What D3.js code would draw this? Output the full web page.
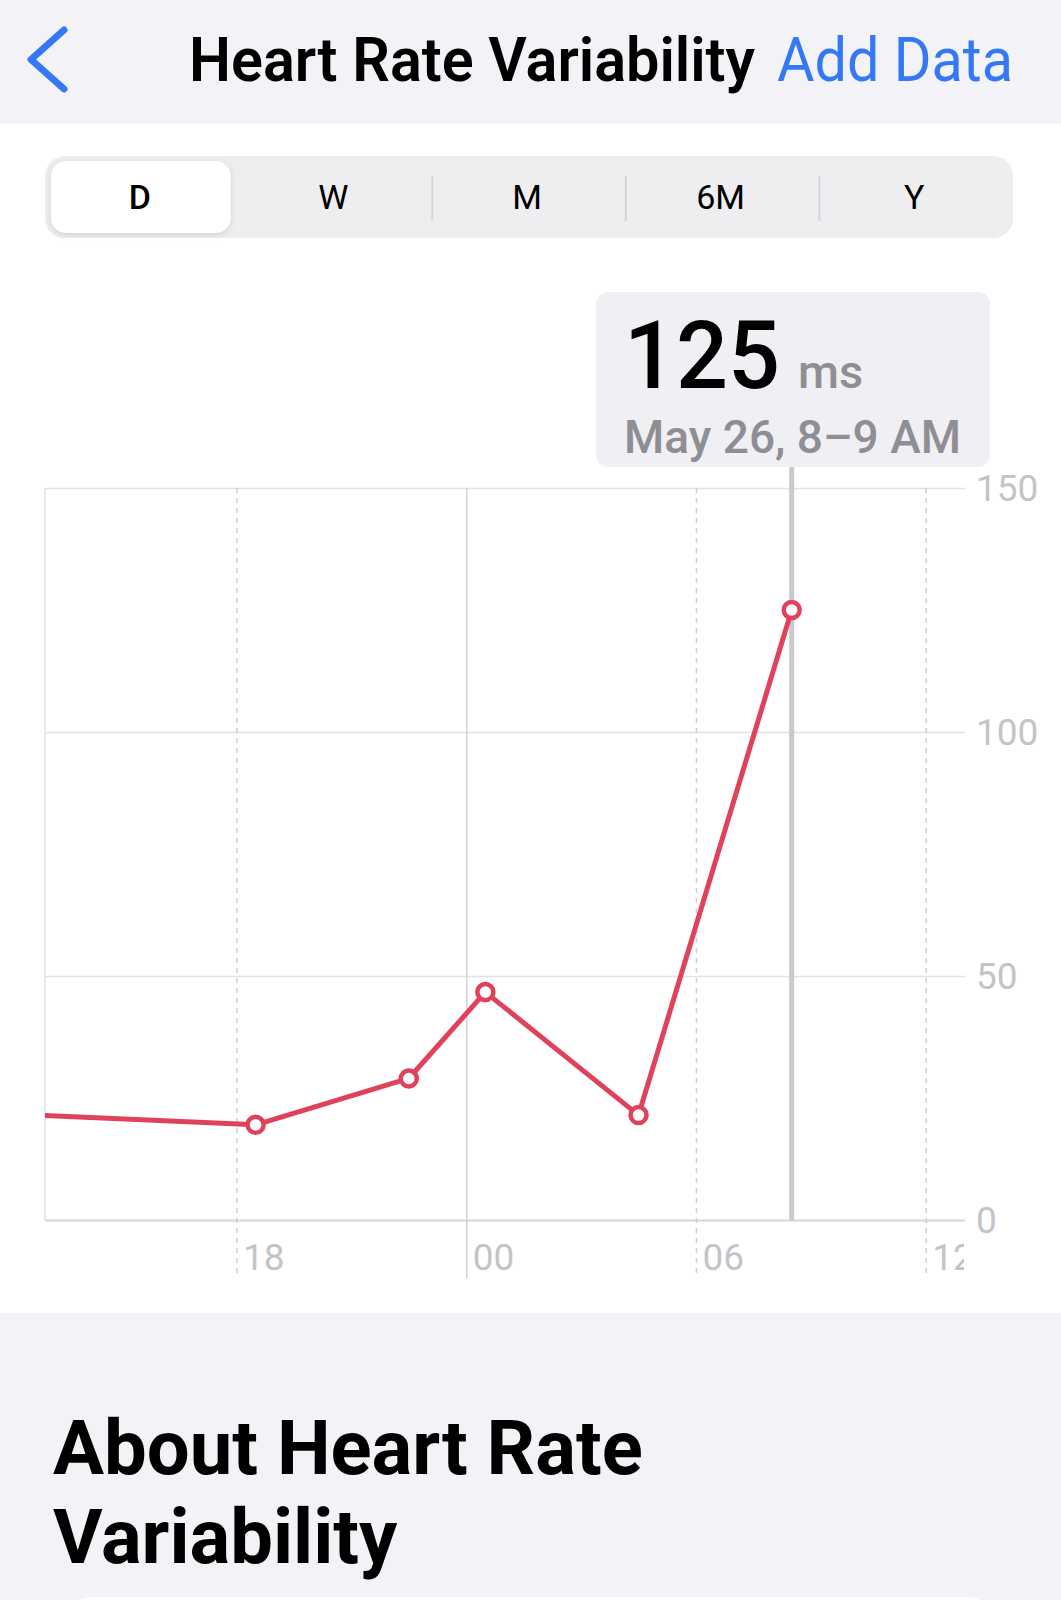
<!DOCTYPE html>
<html><head><meta charset="utf-8">
<script src="https://cdn.jsdelivr.net/npm/d3@7"></script>
<style>
html,body{margin:0;padding:0;background:#fff;}
svg{display:block;font-family:Roboto,"Noto Sans",sans-serif;}
</style>
</head><body>
<svg id="c" width="1061" height="1600"></svg>
<script>
// ---- data ----
const times = ["2024-05-25T10:30","2024-05-25T18:30","2024-05-25T22:30","2024-05-26T00:30","2024-05-26T04:30","2024-05-26T08:30"];
const hrvValues = [22.3, 19.5, 29.0, 46.7, 21.5, 125];
const selectedIndex = 5;
const domainTimes = ["2024-05-25T13:00","2024-05-26T13:00"];
const xTickTimes = ["2024-05-25T18:00","2024-05-26T00:00","2024-05-26T06:00","2024-05-26T12:00"];
const xTickLabels = ["18","00","06","12"];
const yTicks = [0,50,100,150];
const segments = ["D","W","M","6M","Y"];
const selectedSegment = "D";
const title = "Heart Rate Variability";
const unit = "ms";

const parse = d3.timeParse("%Y-%m-%dT%H:%M");
const svg = d3.select("#c");

// backgrounds
svg.append("rect").attr("x",0).attr("y",0).attr("width",1061).attr("height",124).attr("fill","#f2f2f7");
svg.append("rect").attr("x",0).attr("y",124).attr("width",1061).attr("height",1189).attr("fill","#ffffff");
svg.append("rect").attr("x",0).attr("y",1313).attr("width",1061).attr("height",287).attr("fill","#f2f2f7");
svg.append("rect").attr("x",68).attr("y",1597).attr("width",923).attr("height",60).attr("rx",22).attr("fill","#ffffff");

// header
svg.append("path").attr("d","M64 30 L31 59.5 L64 89").attr("fill","none")
  .attr("stroke","#3478f6").attr("stroke-width",7).attr("stroke-linecap","round").attr("stroke-linejoin","round");
svg.append("text").attr("x",189).attr("y",81).attr("font-size",62).attr("font-weight",600)
  .attr("fill","#000").attr("textLength",566).attr("lengthAdjust","spacingAndGlyphs").text(title);
svg.append("text").attr("x",777).attr("y",81).attr("font-size",62).attr("font-weight",400)
  .attr("fill","#3478f6").attr("textLength",236).attr("lengthAdjust","spacingAndGlyphs").text("Add Data");

// segmented control
const defs = svg.append("defs");
const f = defs.append("filter").attr("id","sh").attr("x","-20%").attr("y","-30%").attr("width","140%").attr("height","160%");
f.append("feDropShadow").attr("dx",0).attr("dy",2).attr("stdDeviation",3).attr("flood-color","#000").attr("flood-opacity",0.12);
const seg = d3.scaleBand().domain(segments).range([45,1013]);
svg.append("rect").attr("x",45).attr("y",156).attr("width",968).attr("height",82).attr("rx",20).attr("fill","#eeeef0");
svg.append("rect").attr("x",seg(selectedSegment)+6).attr("y",161).attr("width",seg.bandwidth()-14).attr("height",72)
  .attr("rx",15).attr("fill","#fff").attr("filter","url(#sh)");
segments.slice(2).forEach(s=>{
  svg.append("line").attr("x1",seg(s)).attr("x2",seg(s)).attr("y1",176).attr("y2",221)
    .attr("stroke","#d6d6da").attr("stroke-width",2);
});
svg.selectAll("text.seg").data(segments).join("text").attr("class","seg")
  .attr("x",d=>seg(d)+seg.bandwidth()/2-2).attr("y",209).attr("text-anchor","middle")
  .attr("font-size",34).attr("font-weight",d=>d===selectedSegment?500:400).attr("fill","#000").text(d=>d);

// scales
const x = d3.scaleTime().domain(domainTimes.map(parse)).range([45,964]);
const y = d3.scaleLinear().domain([0,150]).range([1220,488]);

// clip
defs.append("clipPath").attr("id","plotclip").append("rect").attr("x",45).attr("y",300).attr("width",919).attr("height",1000);

// y axis + horizontal grid
const yAxis = svg.append("g").attr("transform","translate(965,0)")
  .call(d3.axisRight(y).tickValues(yTicks).tickSize(-920).tickPadding(11).tickFormat(d3.format("d")));
yAxis.select(".domain").remove();
yAxis.selectAll(".tick line").attr("stroke","#e2e2e4").attr("stroke-width",1.5);
yAxis.selectAll(".tick").filter(d=>d===0).select("line").attr("stroke","#d6d6d8").attr("stroke-width",2);
yAxis.selectAll(".tick text").attr("font-size",37).attr("fill","#c4c4c7").attr("font-family","Roboto,sans-serif").attr("dy","0.35em");

// left border
svg.append("line").attr("x1",45).attr("x2",45).attr("y1",488).attr("y2",1220).attr("stroke","#e2e2e4").attr("stroke-width",1.5);

// x axis + vertical grid (clipped to the plot width)
const xt = xTickTimes.map(parse);
const xWrap = svg.append("g").attr("clip-path","url(#plotclip)");
const xAxis = xWrap.append("g").attr("transform","translate(0,488)")
  .call(d3.axisBottom(x).tickValues(xt).tickSize(786).tickFormat((d,i)=>xTickLabels[i]));
xAxis.select(".domain").remove();
xAxis.selectAll(".tick line")
  .attr("stroke",(d)=>d.getHours()===0?"#d4d4d6":"#cfcfd2")
  .attr("stroke-width",1.5)
  .attr("y2",(d)=>d.getHours()===0?790:786)
  .attr("stroke-dasharray",(d)=>d.getHours()===0?null:"5,5");
xAxis.selectAll(".tick text").attr("font-size",37).attr("fill","#c4c4c7").attr("font-family","Roboto,sans-serif")
  .attr("text-anchor","start").attr("x",6).attr("y",782).attr("dy",0);

// selection line
const sel = {t: parse(times[selectedIndex]), v: hrvValues[selectedIndex]};
svg.append("line").attr("x1",x(sel.t)).attr("x2",x(sel.t)).attr("y1",467).attr("y2",y(0))
  .attr("stroke","#cacacd").attr("stroke-width",5);

// line + points
const data = times.map((t,i)=>({t:parse(t), v:hrvValues[i]}));
const red = "#e0425c";
const plot = svg.append("g").attr("clip-path","url(#plotclip)");
plot.append("path").datum(data)
  .attr("d",d3.line().x(d=>x(d.t)).y(d=>y(d.v)))
  .attr("fill","none").attr("stroke",red).attr("stroke-width",5).attr("stroke-linejoin","round");
plot.selectAll("circle").data(data.filter(d=>d.t>=x.domain()[0])).join("circle")
  .attr("cx",d=>x(d.t)).attr("cy",d=>y(d.v)).attr("r",8)
  .attr("fill","#fff").attr("stroke",red).attr("stroke-width",4.5);

// tooltip
svg.append("rect").attr("x",596).attr("y",292).attr("width",394).attr("height",175).attr("rx",12).attr("fill","#efeff4");
svg.append("text").attr("x",624).attr("y",388).attr("font-size",94).attr("font-weight",500).attr("fill","#000")
  .attr("textLength",156).attr("lengthAdjust","spacingAndGlyphs").text(d3.format("d")(sel.v));
svg.append("text").attr("x",798).attr("y",388).attr("font-size",47).attr("font-weight",500).attr("fill","#8e8e93").text(unit);
const h = sel.t.getHours();
const dateLabel = d3.timeFormat("%b %-d")(sel.t) + ", " + (h%12||12) + "\u2013" + ((h+1)%12||12) + (h<12?" AM":" PM");
svg.append("text").attr("x",624).attr("y",453).attr("font-size",47).attr("font-weight",500).attr("fill","#8e8e93")
  .attr("textLength",337).attr("lengthAdjust","spacingAndGlyphs").text(dateLabel);

// about heading
svg.append("text").attr("x",53).attr("y",1474).attr("font-size",76).attr("font-weight",700).attr("fill","#000").text("About Heart Rate");
svg.append("text").attr("x",53).attr("y",1563).attr("font-size",76).attr("font-weight",700).attr("fill","#000").text("Variability");
</script>
</body></html>
